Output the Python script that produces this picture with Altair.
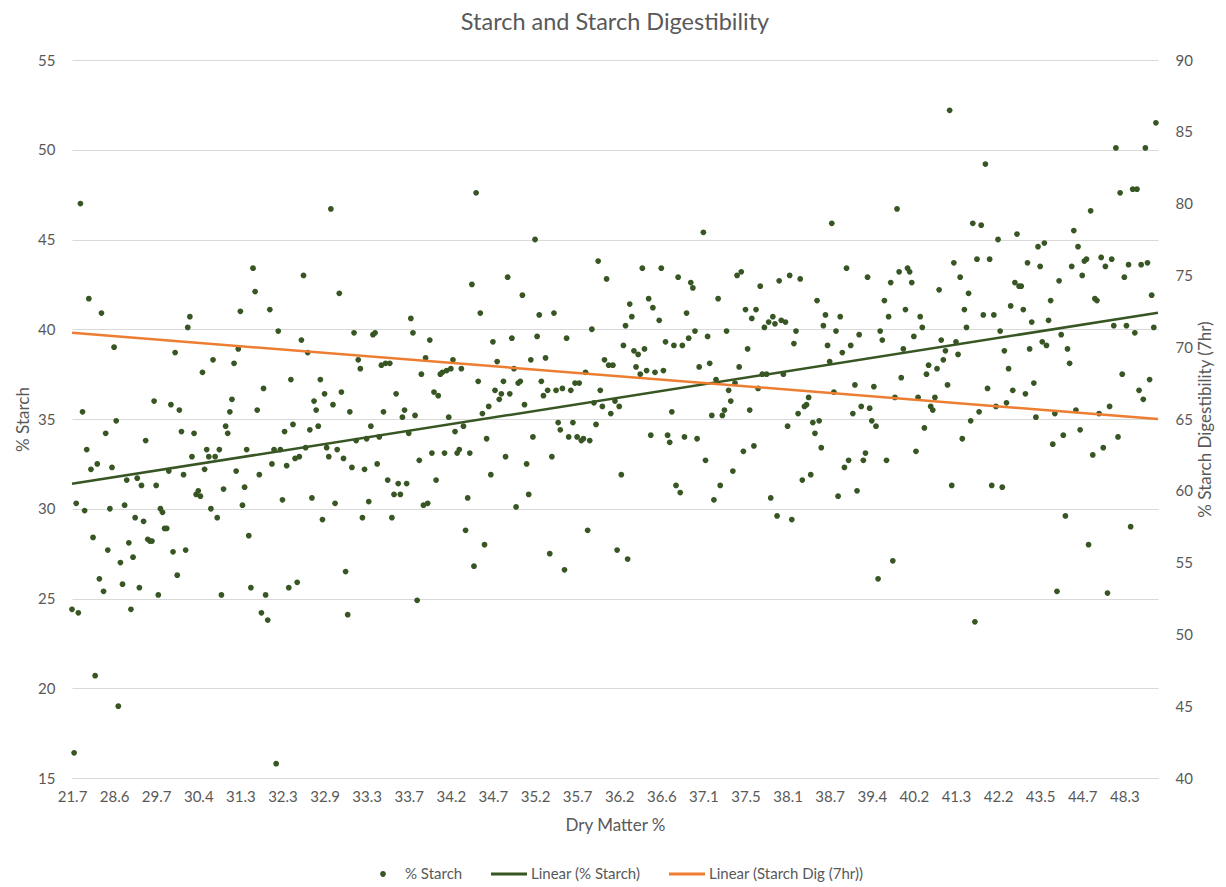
import altair as alt
import pandas as pd

chart_title = "Starch and Starch Digestibility"
x_title = "Dry Matter %"
left_title = "% Starch"
right_title = "% Starch Digestibility (7hr)"

# category-axis labels (one label every 20 samples, samples sorted by dry matter)
dm_labels = ["21.7", "28.6", "29.7", "30.4", "31.3", "32.3", "32.9", "33.3", "33.7", "34.2",
             "34.7", "35.2", "35.7", "36.2", "36.6", "37.1", "37.5", "38.1", "38.7", "39.4",
             "40.2", "41.3", "42.2", "43.5", "44.7", "48.3"]
label_every = 20
n_categories = 517

# % Starch for each sample, in dry-matter order (None = not readable)
starch = [
    24.4, 16.4, 30.3, 24.2, 47.0, 35.4, 29.9, 33.3, 41.7, 32.2,
    28.4, 20.7, 32.5, 26.1, 40.9, 25.4, 34.2, 27.7, 30.0, 32.3,
    39.0, 34.9, 19.0, 27.0, 25.8, 30.2, 31.6, 28.1, 24.4, 27.3,
    29.5, 31.7, 25.6, 31.3, 29.3, 33.8, 28.3, 28.2, 28.2, 36.0,
    31.3, 25.2, 30.0, 29.8, 28.9, 28.9, 32.1, 35.8, 27.6, 38.7,
    26.3, 35.5, 34.3, 31.9, 27.7, 40.1, 40.7, 32.9, 34.2, 30.8,
    31.0, 30.7, 37.6, 32.2, 33.3, 32.9, 30.0, 38.3, 32.9, 29.5,
    33.3, 25.2, 31.1, 34.6, 34.2, 35.4, 36.1, 38.1, 32.1, 38.9,
    41.0, 30.2, 31.2, 33.3, 28.5, 25.6, 43.4, 42.1, 35.5, 31.9,
    24.2, 36.7, 25.2, 23.8, 41.1, 32.5, 33.3, 15.8, 39.9, 33.3,
    30.5, 34.3, 32.4, 25.6, 37.2, 34.7, 32.8, 25.9, 32.9, 39.4,
    43.0, 33.4, 38.7, 34.4, 30.6, 36.0, 35.5, 34.6, 37.2, 29.4,
    36.4, 33.4, 32.9, 46.7, 35.8, 30.3, 33.3, 42.0, 36.5, 32.8,
    26.5, 24.1, 35.4, 32.3, 39.8, 33.8, 38.3, 37.8, 29.5, 32.2,
    33.9, 30.4, 34.6, 39.7, 39.8, 32.5, 34.0, 38.0, 35.4, 38.1,
    31.6, 38.1, 29.5, 30.8, 36.4, 31.4, 30.8, 35.1, 35.5, 31.4,
    34.2, 40.6, 39.8, 35.2, 24.9, 32.7, 37.5, 30.2, 38.4, 30.3,
    39.4, 33.1, 36.5, 31.6, 36.3, 37.5, 37.6, 33.1, 37.7, 35.1,
    37.8, 38.3, 34.3, 33.1, 33.3, 37.8, 34.6, 28.8, 30.6, 33.1,
    42.5, 26.8, 47.6, 37.1, 40.9, 35.3, 28.0, 33.9, 35.7, 31.9,
    39.3, 36.6, 38.2, 36.1, 36.4, 37.1, 32.9, 42.9, 36.4, 39.5,
    37.8, 30.1, 37.0, 37.1, 41.9, 35.8, 32.5, 30.8, 38.3, 34.0,
    45.0, 39.6, 40.8, 37.1, 36.3, 38.4, 36.6, 27.5, 32.9, 40.9,
    36.6, 34.8, 34.4, 36.7, 26.6, 39.5, 34.0, 36.6, 34.8, 37.0,
    34.0, 37.0, 33.8, 33.9, 37.6, 28.8, 33.8, 40.0, 35.9, 34.7,
    43.8, 36.6, 35.7, 38.3, 42.8, 38.0, 35.3, 38.0, 36.0, 27.7,
    35.7, 31.9, 39.1, 40.2, 27.2, 41.4, 40.7, 38.8, 37.9, 38.6,
    37.5, 43.4, 38.9, 37.7, 41.7, 34.1, 41.2, 37.6, None, 40.5,
    43.4, 37.7, 39.3, 34.1, 33.7, 35.4, 39.1, 31.3, 42.9, 30.9,
    39.1, 34.0, 40.9, 39.5, 42.6, 42.3, 39.9, 33.9, 37.9, None,
    45.4, 32.7, 39.6, 38.1, 35.2, 30.5, 37.2, 41.7, 31.3, 35.2,
    35.5, 39.9, 36.6, 36.0, 32.1, 37.0, 43.0, 37.9, 43.2, 33.2,
    41.1, 38.9, 35.5, 40.6, 33.5, 41.1, 36.7, 42.4, 37.5, 40.1,
    37.5, 40.4, 30.6, 40.7, 40.3, 29.6, 42.7, 40.5, 37.5, 40.4,
    34.6, 43.0, 29.4, 39.2, 39.9, 35.3, 42.8, 31.6, 35.7, 35.8,
    36.2, 31.9, 34.8, 34.2, 41.6, 34.9, 33.4, 40.2, 40.8, 39.1,
    38.2, 45.9, 36.5, 39.9, 30.7, 40.7, 38.7, 32.3, 43.4, 32.7,
    39.1, 35.3, 36.9, 31.0, 39.7, 35.7, 32.7, 33.1, 42.9, 35.6,
    34.9, 36.8, 34.6, 26.1, 39.9, 39.4, 41.6, 32.7, 40.7, 42.6,
    27.1, 36.2, 46.7, 43.2, 37.3, 38.9, 41.1, 43.4, 43.2, 42.6,
    39.6, 33.2, 36.2, 40.7, 40.1, 34.5, 37.5, 38.0, 35.7, 35.5,
    36.2, 37.8, 42.2, 39.4, 38.3, 38.8, 36.9, 52.2, 31.3, 43.7,
    39.3, 38.6, 42.9, 33.9, 41.1, 40.1, 42.0, 34.9, 45.9, 23.7,
    43.9, 35.4, 45.8, 40.8, 49.2, 36.7, 43.9, 31.3, 40.8, 35.7,
    45.0, 39.9, 31.2, 38.8, 35.9, 37.8, 41.3, 36.6, 42.6, 45.3,
    42.4, 42.4, 41.1, 36.4, 43.7, 38.9, 40.4, 37.0, 35.1, 44.6,
    43.5, 39.3, 44.8, 39.1, 40.5, 41.6, 33.6, 35.3, 25.4, 42.7,
    39.7, 34.1, 29.6, 38.9, 38.1, 43.5, 45.5, 35.5, 44.6, 34.4,
    43.0, 43.8, 43.9, 28.0, 46.6, 33.0, 41.7, 41.6, 35.3, 44.0,
    33.4, 43.5, 25.3, 35.7, 43.9, 40.2, 50.1, 34.0, 47.6, 37.5,
    42.9, 40.2, 43.6, 29.0, 47.8, 39.8, 47.8, 36.6, 43.6, 36.1,
    50.1, 43.7, 37.2, 41.9, 40.1, 51.5,
]

# Linear trend of Starch Dig (7hr) at the first and last sample (right axis)
dig_trend = [71.0, 65.0]

series_names = ["% Starch", "Linear (% Starch)", "Linear (Starch Dig (7hr))"]
series_colors = ["#375623", "#375623", "#ED7D31"]

left_ticks = [15, 20, 25, 30, 35, 40, 45, 50, 55]
right_ticks = [40, 45, 50, 55, 60, 65, 70, 75, 80, 85, 90]

FONT = "Lato"
TXT = "#595959"
GRID = "#D9D9D9"

pts = pd.DataFrame({"sample": list(range(len(starch))), "starch": starch}).dropna()
pts["series"] = series_names[0]
dig = pd.DataFrame({"sample": [0, n_categories - 1], "dig": dig_trend})

label_js = "[" + ",".join("'%s'" % s for s in dm_labels) + "]"
x_scale = alt.Scale(domain=[0, n_categories - 1], nice=False, zero=False)
x_axis = alt.Axis(
    values=[i * label_every for i in range(len(dm_labels))],
    labelExpr=label_js + "[round(datum.value / %d)]" % label_every,
    title=x_title, grid=False, ticks=False, domain=True, domainColor=GRID,
    labelPadding=11, titlePadding=13, labelFlush=False, labelOverlap=False,
)
y_left = alt.Scale(domain=[15, 55], nice=False, zero=False)
y_right = alt.Scale(domain=[40, 90], nice=False, zero=False)
left_axis = alt.Axis(
    values=left_ticks, title=left_title, grid=True, gridColor=GRID,
    domain=False, ticks=False, labelPadding=17, titlePadding=5, labelFlush=False)

circle_path = "M0.16,0A0.16,0.16,0,1,1,-0.16,0A0.16,0.16,0,1,1,0.16,0Z"
bar_path = "M-1,-0.085H1V0.085H-1Z"

legend = alt.Legend(
    title=None, orient="none", legendX=293, legendY=796, direction="horizontal",
    symbolSize=1296, labelFontSize=15, labelFont=FONT, labelColor=TXT,
    columnPadding=28, labelOffset=4, symbolOpacity=1, symbolStrokeWidth=0,
)

points = alt.Chart(pts).mark_point(filled=True, size=1296, opacity=1).encode(
    x=alt.X("sample:Q", scale=x_scale, axis=x_axis),
    y=alt.Y("starch:Q", scale=y_left, axis=left_axis),
    color=alt.Color("series:N", scale=alt.Scale(domain=series_names, range=series_colors), legend=legend),
    shape=alt.Shape("series:N", scale=alt.Scale(domain=series_names,
                    range=[circle_path, bar_path, bar_path]), legend=legend),
)

trend = alt.Chart(pts).transform_regression(
    "sample", "starch", extent=[0, n_categories - 1]
).mark_line(color=series_colors[1], strokeWidth=2.5).encode(
    x=alt.X("sample:Q", scale=x_scale, axis=x_axis),
    y=alt.Y("starch:Q", scale=y_left, axis=left_axis),
)

dig_line = alt.Chart(dig).mark_line(color=series_colors[2], strokeWidth=2.5).encode(
    x=alt.X("sample:Q", scale=x_scale, axis=x_axis),
    y=alt.Y("dig:Q", scale=y_right, axis=alt.Axis(
        orient="right", values=right_ticks, title=right_title, grid=False,
        domain=False, ticks=False, labelPadding=17, titlePadding=22,
        titleAngle=270, labelFlush=False)),
)

chart = alt.layer(alt.layer(points, trend), dig_line).resolve_scale(y="independent").properties(
    width=1086, height=718,
    padding={"left": 64, "top": 52, "right": 60, "bottom": 108},
    autosize=alt.AutoSizeParams(type="none"),
    title=alt.TitleParams(chart_title, fontSize=23.5, font=FONT, color=TXT,
                          fontWeight="normal", offset=19, anchor="middle"),
).configure_view(stroke=None).configure_axis(
    labelFont=FONT, titleFont=FONT, labelColor=TXT, titleColor=TXT,
    labelFontSize=15, titleFontSize=17, titleFontWeight="normal",
)

chart.save("out.html", embed_options={"renderer": "svg", "actions": False})
